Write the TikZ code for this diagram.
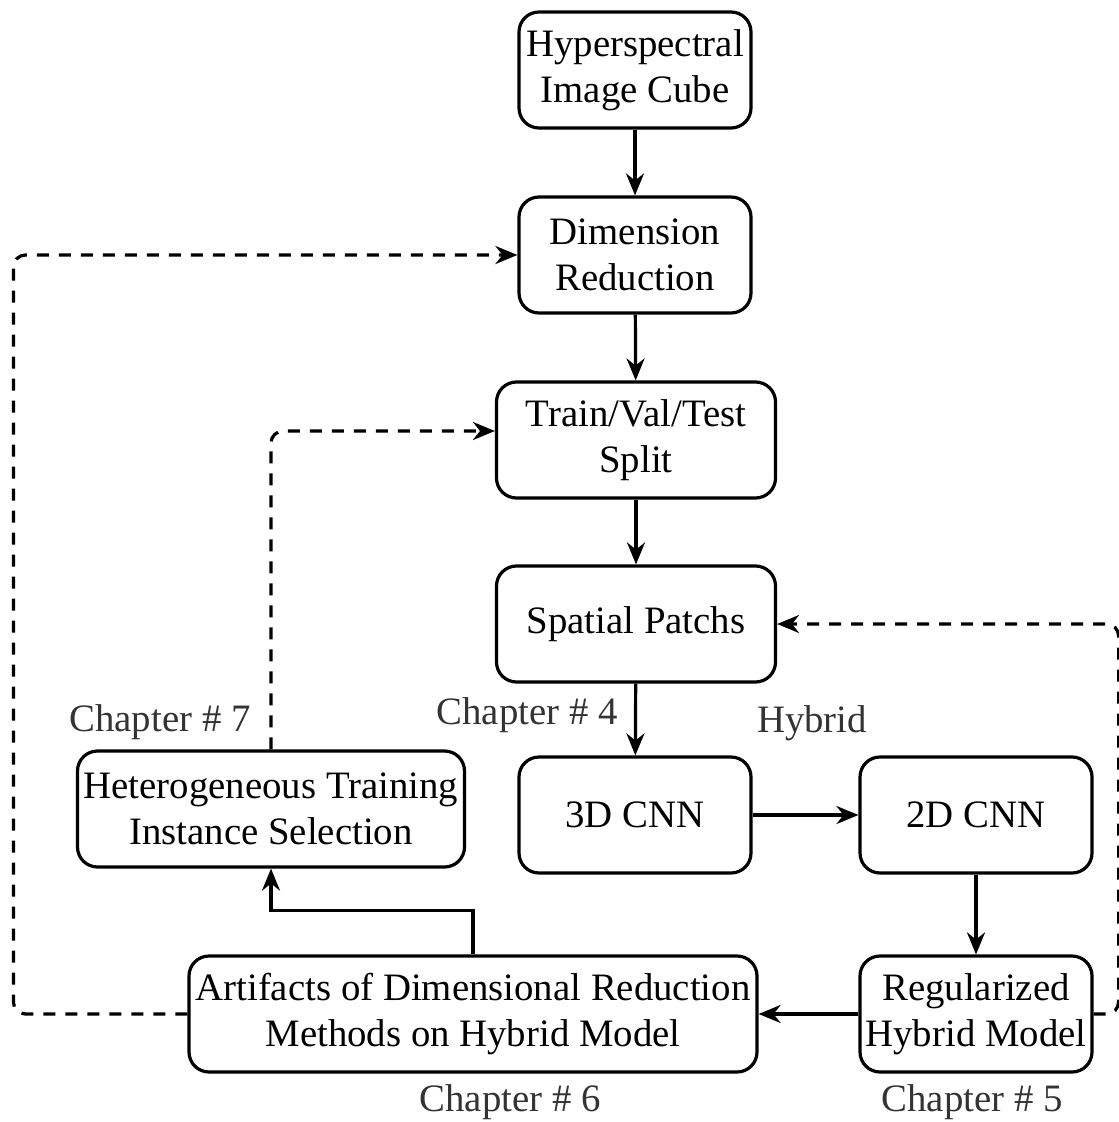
\documentclass[tikz,border=0pt]{standalone}
\usepackage{fontspec}
\setmainfont{Liberation Serif}
\usetikzlibrary{arrows.meta}
\tikzset{
  box/.style={draw, line width=1.6pt, rounded corners=10pt, align=center,
    minimum width=116pt, minimum height=58pt, inner sep=0pt},
  flow/.style={line width=1.6pt, -{Stealth[length=11pt,width=9pt]}},
  back/.style={flow, dash pattern=on 6pt off 5pt, rounded corners=6pt},
  chap/.style={text=black!80}
}
\begin{document}
\begin{tikzpicture}[x=0.5pt,y=-0.5pt,font=\fontsize{19.4}{23}\selectfont]
  \useasboundingbox (0,0) rectangle (1118,1122);
  % main column
  \node[box] (cube) at (635,70) {Hyperspectral\\Image Cube};
  \node[box] (dimred) at (635,255) {Dimension\\Reduction};
  \node[box, minimum width=139.5pt] (split) at (636,440) {Train/Val/Test\\Split};
  \node[box, minimum width=139.5pt] (patch) at (636,624) {Spatial Patchs};
  \node[box] (cnn3) at (635,815) {3D CNN};
  \node[box] (cnn2) at (976,815) {2D CNN};
  \node[box] (reg) at (976,1014) {Regularized\\Hybrid Model};
  \node[box, minimum width=284pt] (arti) at (473,1014) {Artifacts of Dimensional Reduction\\Methods on Hybrid Model};
  \node[box, minimum width=193.5pt] (hetero) at (271,809) {Heterogeneous Training\\Instance Selection};
  % labels
  \node[chap] (ch7) at (160,722) {Chapter \# 7};
  \node[chap] (ch4) at (527,715) {Chapter \# 4};
  \node[chap] (hyb) at (812,723) {Hybrid};
  \node[chap] (ch6) at (510,1102) {Chapter \# 6};
  \node[chap] (ch5) at (972,1102) {Chapter \# 5};
  % arrows
  \draw[flow] (cube) -- (dimred);
  \draw[flow] (dimred) -- (split);
  \draw[flow] (split) -- (patch);
  \draw[flow] (patch) -- (cnn3);
  \draw[flow] (cnn3) -- (cnn2);
  \draw[flow] (cnn2) -- (reg);
  \draw[flow] (reg) -- (arti);
  \draw[flow] (arti.north) -- ++(0,-44) -| (hetero.south);
  % feedback
  \draw[back] (hetero.north) |- ([yshift=4.5pt]split.west);
  \draw[back] (arti.west) -- ++(-174,0) |- (dimred.west);
  \draw[back] (reg.east) -- ++(25,0) |- (patch.east);
\end{tikzpicture}
\end{document}
